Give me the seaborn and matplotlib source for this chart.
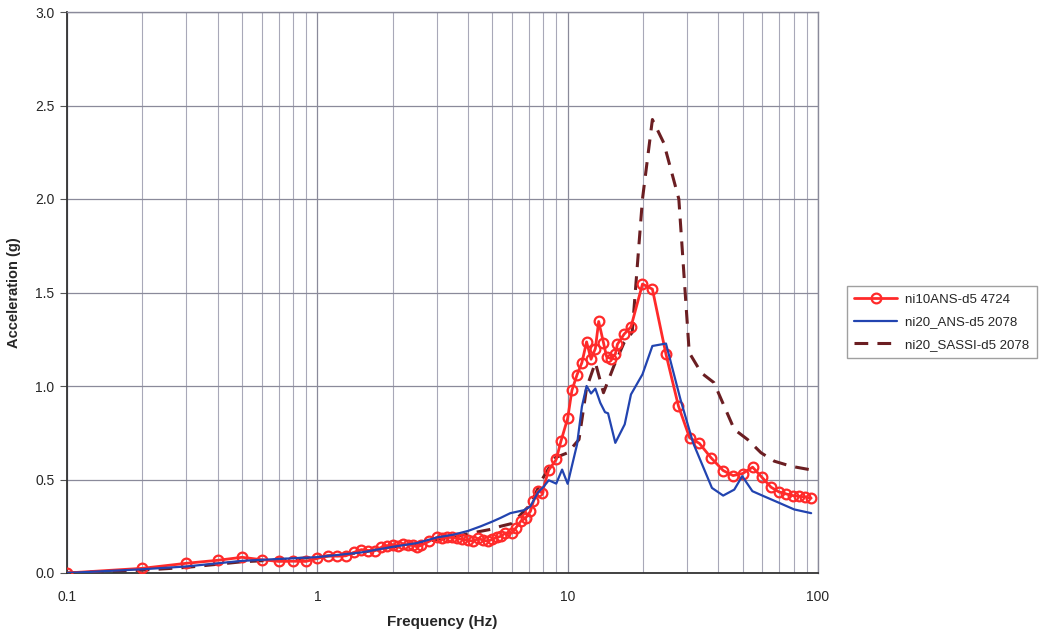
import numpy as np
import pandas as pd
import matplotlib
matplotlib.use("Agg")
import matplotlib.pyplot as plt
import seaborn as sns
from matplotlib.ticker import FixedLocator, FixedFormatter, NullFormatter, LogLocator

# ---------------- data ----------------
red_f = [0.1, 0.2, 0.3, 0.4, 0.5, 0.6, 0.7, 0.8, 0.9, 1.0, 1.1, 1.2, 1.3, 1.4, 1.5, 1.6, 1.7, 1.8, 1.9,
         2.0, 2.1, 2.2, 2.3, 2.4, 2.5, 2.6, 2.8, 3.0, 3.15, 3.3, 3.45, 3.6, 3.8, 4.0, 4.2, 4.4, 4.6, 4.8,
         5.0, 5.2, 5.4, 5.64, 6.0, 6.2, 6.5, 6.8, 7.1, 7.3, 7.6, 7.9, 8.4, 9.0, 9.4, 10.0, 10.4, 10.9,
         11.4, 11.9, 12.4, 12.9, 13.3, 13.9, 14.3, 14.9, 15.5, 15.8, 16.8, 17.9, 19.9, 21.8, 24.7, 27.7,
         30.7, 33.6, 37.4, 41.8, 45.8, 50.0, 54.8, 59.7, 64.9, 69.7, 74.5, 79.2, 84.3, 88.8, 93.9]
red_a = [0.0, 0.025, 0.052, 0.068, 0.084, 0.071, 0.062, 0.063, 0.062, 0.078, 0.092, 0.09, 0.092, 0.11,
         0.125, 0.12, 0.12, 0.137, 0.146, 0.15, 0.146, 0.155, 0.15, 0.148, 0.14, 0.148, 0.17, 0.19, 0.185,
         0.19, 0.19, 0.185, 0.18, 0.175, 0.17, 0.185, 0.175, 0.17, 0.18, 0.19, 0.196, 0.214, 0.214, 0.24,
         0.277, 0.295, 0.33, 0.384, 0.437, 0.43, 0.55, 0.607, 0.705, 0.827, 0.977, 1.06, 1.125, 1.236,
         1.143, 1.2, 1.345, 1.232, 1.157, 1.146, 1.17, 1.223, 1.277, 1.316, 1.545, 1.518, 1.17, 0.893,
         0.723, 0.693, 0.616, 0.548, 0.521, 0.532, 0.566, 0.512, 0.459, 0.434, 0.423, 0.414, 0.41, 0.407,
         0.40]

blue_f = [0.1, 0.2, 0.3, 0.5, 0.7, 1.0, 1.5, 2.0, 2.5, 3.0, 3.5, 4.0, 4.5, 5.0, 5.4, 5.9, 6.7, 7.1, 7.6,
          8.0, 8.4, 9.0, 9.5, 10.0, 10.9, 11.4, 11.9, 12.4, 12.9, 13.5, 14.1, 14.5, 15.5, 16.9, 17.9,
          19.9, 21.8, 24.7, 28.2, 31.7, 37.7, 41.8, 46.3, 49.8, 54.7, 60.9, 68.9, 80.3, 93.9]
blue_a = [0.0, 0.02, 0.035, 0.065, 0.075, 0.085, 0.11, 0.14, 0.16, 0.19, 0.205, 0.225, 0.25, 0.275,
          0.295, 0.32, 0.336, 0.357, 0.43, 0.46, 0.496, 0.478, 0.553, 0.477, 0.6875, 0.89, 1.0, 0.96,
          0.986, 0.91, 0.86, 0.854, 0.696, 0.795, 0.955, 1.0625, 1.214, 1.227, 0.93, 0.696, 0.455,
          0.414, 0.446, 0.518, 0.4375, 0.41, 0.379, 0.34, 0.32]

dash_f = [0.1, 0.2, 0.3, 0.5, 0.7, 1.0, 1.5, 2.0, 2.5, 3.0, 3.5, 4.0, 5.0, 5.4, 6.0, 7.1, 7.9, 8.9, 10.0,
          11.1, 11.9, 12.9, 13.9, 15.3, 16.8, 18.1, 19.9, 21.8, 24.2, 27.8, 30.6, 34.2, 38.4, 46.3, 52.3,
          59.2, 66.9, 78.0, 95.0]
dash_a = [0.0, 0.015, 0.03, 0.06, 0.07, 0.085, 0.11, 0.14, 0.155, 0.18, 0.19, 0.21, 0.235, 0.25, 0.265,
          0.366, 0.5, 0.616, 0.643, 0.714, 0.99, 1.125, 0.964, 1.107, 1.232, 1.286, 2.0, 2.425, 2.30,
          2.0, 1.178, 1.07, 1.018, 0.768, 0.714, 0.643, 0.598, 0.571, 0.55]

series_names = ["ni10ANS-d5 4724", "ni20_ANS-d5 2078", "ni20_SASSI-d5 2078"]
x_ticks = [0.1, 1, 10, 100]
x_tick_labels = ["0.1", "1", "10", "100"]
y_ticks = [0.0, 0.5, 1.0, 1.5, 2.0, 2.5, 3.0]
y_tick_labels = ["0.0", "0.5", "1.0", "1.5", "2.0", "2.5", "3.0"]

# ---------------- style ----------------
sns.set_style("white")
plt.rcParams['font.family'] = ['Liberation Sans', 'DejaVu Sans']

fig = plt.figure(figsize=(10.58, 6.38), dpi=100)
ax = fig.add_axes([67 / 1058, 65 / 638, 751 / 1058, 561 / 638])
ax.set_xscale("log")

df_red = pd.DataFrame({"f": red_f, "a": red_a})
df_blue = pd.DataFrame({"f": blue_f, "a": blue_a})
df_dash = pd.DataFrame({"f": dash_f, "a": dash_a})

sns.lineplot(data=df_red, x="f", y="a", ax=ax, color="#FF2A2A", lw=2.0, marker="o",
             markersize=7, markerfacecolor="none", markeredgecolor="#FF2A2A", markeredgewidth=1.6,
             label=series_names[0], zorder=3)
sns.lineplot(data=df_blue, x="f", y="a", ax=ax, color="#2244B0", lw=1.6,
             label=series_names[1], zorder=4)
sns.lineplot(data=df_dash, x="f", y="a", ax=ax, color="#6B1E22", lw=2.2,
             label=series_names[2], zorder=2)
ax.lines[-1].set_dashes([4.5, 3])

ax.set_xlim(0.1, 100)
ax.set_ylim(0, 3.0)
ax.xaxis.set_major_locator(FixedLocator(x_ticks))
ax.xaxis.set_major_formatter(FixedFormatter(x_tick_labels))
ax.xaxis.set_minor_locator(LogLocator(base=10, subs=np.arange(2, 10)))
ax.xaxis.set_minor_formatter(NullFormatter())
ax.yaxis.set_major_locator(FixedLocator(y_ticks))
ax.yaxis.set_major_formatter(FixedFormatter(y_tick_labels))

ax.grid(which="major", axis="both", color="#8a8a9a", lw=0.9)
ax.grid(which="minor", axis="x", color="#a8a8b8", lw=0.8)
ax.set_axisbelow(True)

ax.tick_params(axis="y", which="major", labelsize=10, length=5, pad=4, color="#555555",
               direction="out", left=True)
ax.tick_params(axis="x", which="major", labelsize=10, length=0, pad=12, bottom=True)
ax.tick_params(axis="x", which="minor", length=0)
for side in ["left", "bottom"]:
    ax.spines[side].set_color("#333333")
    ax.spines[side].set_linewidth(1.3)
for side in ["top", "right"]:
    ax.spines[side].set_color("#8a8a9a")
    ax.spines[side].set_linewidth(1.0)

ax.set_xlabel("Frequency (Hz)", fontsize=11, fontweight="bold", labelpad=8)
ax.set_ylabel("Acceleration (g)", fontsize=10.5, fontweight="bold", labelpad=10)

handles, labels = ax.get_legend_handles_labels()
ax.get_legend().remove()
leg = fig.legend(handles, labels, loc="center left", bbox_to_anchor=(0.794, 0.495),
                 frameon=True, fancybox=False, edgecolor="#888888", fontsize=9.5,
                 handlelength=3.3, handletextpad=0.6, borderpad=0.55, labelspacing=0.8)
leg.get_frame().set_linewidth(1.0)

fig.savefig("out.png", dpi=100)
